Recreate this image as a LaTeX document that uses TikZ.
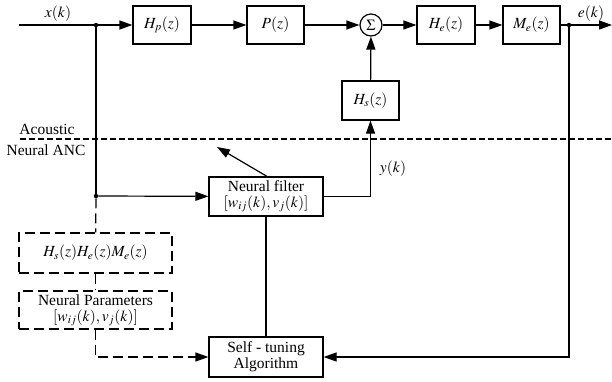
\documentclass[tikz,border=0pt]{standalone}
\usepackage{mathptmx}
\usepackage{fontspec}
\setmainfont{Liberation Serif}
\usetikzlibrary{arrows.meta}
\pgfdeclarelayer{edgelayer}
\pgfdeclarelayer{nodelayer}
\pgfsetlayers{edgelayer,nodelayer,main}
\tikzstyle{edge}=[draw=black, line width=1.2pt]
\tikzstyle{arc}=[draw=black, line width=1.2pt, -{Triangle[length=13pt,width=9pt]}]
\tikzstyle{block}=[rectangle, fill=white, draw=black, line width=1.2pt, inner sep=0pt, minimum height=38pt, align=center]
\tikzstyle{dblock}=[block, dash pattern=on 10pt off 5pt]
\tikzstyle{adder}=[circle, fill=white, draw=black, line width=1.2pt, inner sep=0pt, minimum size=22pt]
\tikzstyle{dot}=[circle, fill=black, inner sep=0pt, minimum size=4.5pt]
\tikzstyle{label}=[inner sep=0pt]

\begin{document}
\begin{tikzpicture}[x=1pt, y=-1pt, font=\fontsize{15.5}{16}\selectfont]
				\useasboundingbox (0,0) rectangle (612,381);
				\begin{pgfonlayer}{nodelayer}
					\coordinate (in) at (19, 25);
					\node [style=dot] (j1) at (96, 25) {};
					\node [style=block, minimum width=58pt] (hp) at (162, 25) {$H_p(z)$};
					\node [style=block, minimum width=57pt] (p) at (275.5, 25) {$P(z)$};
					\node [style=adder] (sum) at (371, 25) {$\Sigma$};
					\node [style=block, minimum width=58pt] (he) at (446, 25) {$H_e(z)$};
					\node [style=block, minimum width=57pt] (me) at (531.5, 25) {$M_e(z)$};
					\node [style=dot] (j2) at (569, 25) {};
					\coordinate (out) at (612, 25);
					\node [style=block, minimum width=57pt, minimum height=39pt] (hs) at (370.5, 100.5) {$H_s(z)$};
					\node [style=dot] (j3) at (96, 196) {};
					\node [style=block, minimum width=114pt, minimum height=39pt] (nf) at (266, 196.5) {Neural filter\\$[w_{ij}(k),v_j(k)]$};
					\node [style=block, minimum width=114pt, minimum height=40pt] (st) at (266, 357) {Self - tuning\\Algorithm};
					\node [style=dblock, minimum width=153pt, minimum height=40pt] (model) at (95.5, 253) {$H_s(z)H_e(z)M_e(z)$};
					\node [style=dblock, minimum width=153pt] (param) at (95.5, 310) {Neural Parameters\\$[w_{ij}(k),v_j(k)]$};
					\node [style=label] (xk) at (58, 14) {$x(k)$};
					\node [style=label] (ek) at (591, 14) {$e(k)$};
					\node [style=label] (yk) at (393, 169) {$y(k)$};
					\node [style=label] (ac) at (47, 129) {Acoustic};
					\node [style=label] (anc) at (46, 150) {Neural ANC};
					\coordinate (s1) at (20, 139);
					\coordinate (s2) at (612, 139);
					\coordinate (tip) at (217, 147);
				\end{pgfonlayer}
				\begin{pgfonlayer}{edgelayer}
					\draw [style=edge] (in) to (j1);
					\draw [style=arc] (j1) to (hp);
					\draw [style=arc] (hp) to (p);
					\draw [style=arc] (p) to (sum);
					\draw [style=arc] (sum) to (he);
					\draw [style=arc] (he) to (me);
					\draw [style=edge] (me) to (j2);
					\draw [style=arc] (j2) to (out);
					\draw [style=arc] (hs) to (sum);
					\draw [style=edge] (j1) to (j3);
					\draw [style=arc] (j3) to (nf);
					\draw [style=arc] (nf.east) -| (hs.south);
					\draw [style=arc] (nf.north) ++(1,0) to (tip);
					\draw [style=edge] (nf) to (st);
					\draw [style=arc] (j2) |- (st.east);
					\draw [style=edge, dash pattern=on 10pt off 5pt] (j3) to (model);
					\draw [style=edge, dash pattern=on 10pt off 5pt] (model) to (param);
					\draw [style=arc, dash pattern=on 10pt off 5pt] (param.south) |- (st.west);
					\draw [style=edge, dash pattern=on 6pt off 3pt] (s1) to (s2);
				\end{pgfonlayer}
			\end{tikzpicture}
\end{document}
